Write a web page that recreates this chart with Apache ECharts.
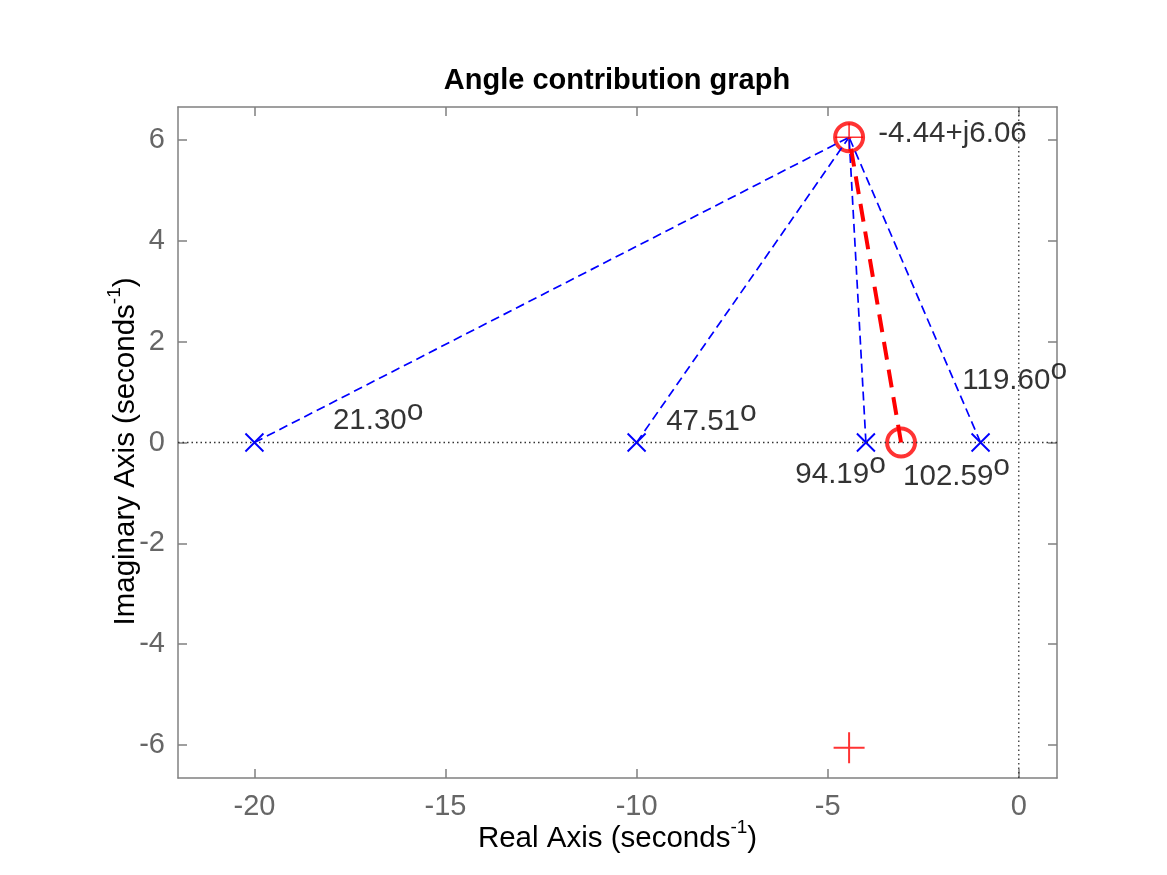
<!DOCTYPE html>
<html><head><meta charset="utf-8">
<script src="https://cdn.jsdelivr.net/npm/echarts@6/dist/echarts.min.js"></script>
<style>html,body{margin:0;padding:0;background:#fff}#c{width:1167px;height:875px}</style>
</head><body><div id="c"></div>
<script>
// ---- data ----
const poles = [-20, -10, -4, -1];
const zeros = [-3.08];
const designPoint = [-4.44, 6.06];
const conjugatePoint = [-4.44, -6.06];
const angleTexts = ['21.30', '47.51', '94.19', '102.59', '119.60'];
const angleTextX = [-17.96, -9.24, -5.86, -3.04, -1.49];
const angleTextY = [0.42, 0.40, -0.64, -0.68, 1.23];
const pointLabelPos = [-3.69, 6.13];
const xTicks = [-20, -15, -10, -5, 0];
const yTicks = [-6, -4, -2, 0, 2, 4, 6];
const xRange = [-22, 1];
const yRange = [-6.66, 6.66];

// ---- styles ----
const FONT = '"Liberation Sans", Arial, Helvetica, sans-serif';
const axisGray = '#808080';
const labelGray = '#666666';

function xAxisDef(pos, showLabel) {
  return {
    type: 'value', position: pos, min: xRange[0], max: xRange[1],
    splitLine: {show: false},
    axisLine: {onZero: false, lineStyle: {color: axisGray, width: 1.5}},
    axisTick: {inside: true, length: 9, customValues: xTicks, lineStyle: {color: axisGray, width: 1.5}},
    axisLabel: {show: showLabel, customValues: xTicks, margin: 14, color: labelGray, fontSize: 29, fontFamily: FONT},
    name: showLabel ? 'Real Axis (seconds{sup|-1})' : '',
    nameLocation: 'middle', nameGap: 44, nameMoveOverlap: false,
    nameTextStyle: {
      color: '#000', fontSize: 29.5, fontFamily: FONT, lineHeight: 34,
      rich: {sup: {fontSize: 19, fontFamily: FONT, color: '#000', lineHeight: 15, padding: [0, 0, 19, 0], verticalAlign: 'bottom'}}
    }
  };
}
function yAxisDef(pos, showLabel) {
  return {
    type: 'value', position: pos, min: yRange[0], max: yRange[1],
    splitLine: {show: false},
    axisLine: {onZero: false, lineStyle: {color: axisGray, width: 1.5}},
    axisTick: {inside: true, length: 9, customValues: yTicks, lineStyle: {color: axisGray, width: 1.5}},
    axisLabel: {show: showLabel, customValues: yTicks, margin: 13, color: labelGray, fontSize: 29, fontFamily: FONT},
    name: showLabel ? 'Imaginary Axis (seconds{sup|-1})' : '',
    nameLocation: 'middle', nameGap: 35, nameMoveOverlap: false,
    nameTextStyle: {
      color: '#000', fontSize: 29.5, fontFamily: FONT, lineHeight: 34, padding: [0, 18, 0, 0],
      rich: {sup: {fontSize: 19, fontFamily: FONT, color: '#000', lineHeight: 15, padding: [0, 0, 19, 0], verticalAlign: 'bottom'}}
    }
  };
}

const series = [];
// dotted reference axes
series.push({
  type: 'line', silent: true, symbol: 'none',
  data: [[xRange[0], 0], [xRange[1], 0]],
  lineStyle: {color: '#333', width: 1.3, type: [1.5, 3]}
});
series.push({
  type: 'line', silent: true, symbol: 'none',
  data: [[0, yRange[0]], [0, yRange[1]]],
  lineStyle: {color: '#333', width: 1.3, type: [1.5, 3]}
});
// blue dashed lines from poles
poles.forEach(p => {
  series.push({
    type: 'line', silent: true, symbol: 'none',
    data: [[p, 0], designPoint],
    lineStyle: {color: '#0000ff', width: 1.7, type: [9, 5]}
  });
});
// red dashed line from zero
zeros.forEach(z => {
  series.push({
    type: 'line', silent: true, symbol: 'none',
    data: [[z, 0], designPoint],
    lineStyle: {color: '#ff0000', width: 4, type: [18, 10]}
  });
});
// pole markers
series.push({
  type: 'scatter', silent: true,
  data: poles.map(p => [p, 0]),
  symbol: 'path://M0,0L10,10M10,0L0,10', symbolSize: 18,
  itemStyle: {color: 'rgba(0,0,0,0)', borderColor: '#0000ff', borderWidth: 1.9, opacity: 1}
});
// zero marker
series.push({
  type: 'scatter', silent: true,
  data: zeros.map(z => [z, 0]),
  symbol: 'circle', symbolSize: 28,
  itemStyle: {color: 'rgba(0,0,0,0)', borderColor: '#ff0000', borderWidth: 4}
});
// design point: circle + plus
series.push({
  type: 'scatter', silent: true,
  data: [designPoint],
  symbol: 'circle', symbolSize: 28,
  itemStyle: {color: 'rgba(0,0,0,0)', borderColor: '#ff0000', borderWidth: 4}
});
series.push({
  type: 'scatter', silent: true,
  data: [designPoint],
  symbol: 'path://M0,10L20,10M10,0L10,20', symbolSize: 28,
  itemStyle: {color: 'rgba(0,0,0,0)', borderColor: '#ff0000', borderWidth: 1.6}
});
// conjugate plus
series.push({
  type: 'scatter', silent: true,
  data: [conjugatePoint],
  symbol: 'path://M0,10L20,10M10,0L10,20', symbolSize: 31,
  itemStyle: {color: 'rgba(0,0,0,0)', borderColor: '#ff0000', borderWidth: 2}
});
// angle texts
series.push({
  type: 'scatter', silent: true,
  data: angleTexts.map((t, i) => [angleTextX[i], angleTextY[i]]),
  symbolSize: 1, itemStyle: {color: 'rgba(0,0,0,0)'},
  label: {
    show: true, position: 'right', distance: 0,
    formatter: p => '{n|' + angleTexts[p.dataIndex] + '}{sup|o}',
    rich: {
      n: {fontSize: 29.5, lineHeight: 30, fontFamily: FONT, color: '#000'},
      sup: {fontSize: 30, lineHeight: 20, padding: [0, 0, 10, 0], verticalAlign: 'bottom', fontFamily: FONT, color: '#000'}
    }
  }
});
// design point text
series.push({
  type: 'scatter', silent: true,
  data: [pointLabelPos],
  symbolSize: 1, itemStyle: {color: 'rgba(0,0,0,0)'},
  label: {
    show: true, position: 'right', distance: 0,
    formatter: () => designPoint[0].toFixed(2) + '+j' + designPoint[1].toFixed(2),
    fontSize: 29.5, lineHeight: 30, fontFamily: FONT, color: '#000'
  }
});

const chart = echarts.init(document.getElementById('c'));
chart.setOption({
  animation: false,
  backgroundColor: '#fff',
  title: {
    text: 'Angle contribution graph', left: 617, top: 66, padding: 0,
    textAlign: 'center', textVerticalAlign: 'top',
    textStyle: {fontSize: 29, fontWeight: 'bold', fontFamily: FONT, color: '#000'}
  },
  grid: {left: 178, right: 110, top: 107, bottom: 97},
  xAxis: [xAxisDef('bottom', true), xAxisDef('top', false)],
  yAxis: [yAxisDef('left', true), yAxisDef('right', false)],
  series: series
});
</script></body></html>
